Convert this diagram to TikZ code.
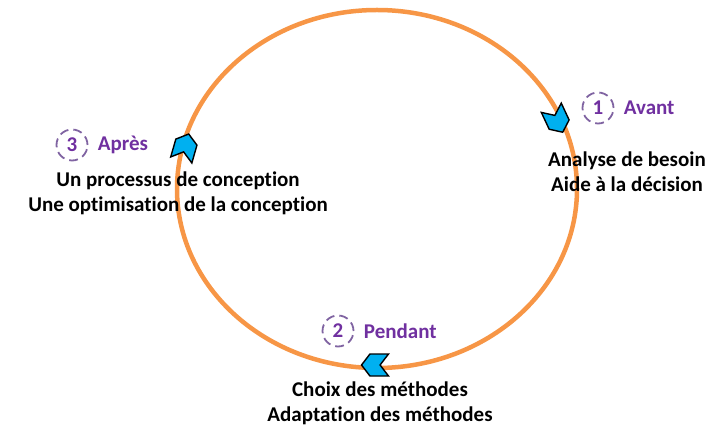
\documentclass[tikz,border=0pt]{standalone}
\usepackage{fontspec}
\setmainfont[Ligatures=NoCommon]{Carlito}
\usetikzlibrary{shapes.geometric,shapes.symbols,positioning}
\definecolor{ringorange}{HTML}{F79646}
\definecolor{chevblue}{HTML}{00B0F0}
\definecolor{phasepurple}{HTML}{7030A0}
\definecolor{dashpurple}{HTML}{8064A2}

\begin{document}
\begin{tikzpicture}[x=1pt,y=1pt,
  every node/.style={font=\fontsize{21}{25}\selectfont\bfseries,align=center},
  ring/.style={draw=ringorange,line width=4.5pt},
  chevron/.style={signal,signal to=east,signal from=west,draw=black,
    fill=chevblue,line width=1.4pt,minimum width=27pt,minimum height=22pt,
    inner sep=0pt,signal pointer angle=105},
  stepnum/.style={circle,draw=dashpurple,line width=1.8pt,
    dash pattern=on 9pt off 5pt,minimum size=31pt,inner sep=0pt,
    text=phasepurple},
  phase/.style={text=phasepurple,anchor=west},
  desc/.style={text=black}]
  \useasboundingbox (0,0) rectangle (708,428);
  \node[ring,ellipse,minimum width=400pt,minimum height=358pt,inner sep=0pt]
    (cycle) at (377,239) {};

  % markers along the cycle
  \node[chevron,rotate=-65] (before) at (557,308) {};
  \node[chevron,rotate=180] (during) at (375,63) {};
  \node[chevron,rotate=74] (after) at (185,281) {};

  % phase 1
  \node[stepnum] (num1) at (598,320) {1};
  \node[phase,right=6pt of num1] (avant) {Avant};
  \node[desc] (besoin) at (627,256) {Analyse de besoin\\Aide à la décision};

  % phase 2
  \node[stepnum] (num2) at (338,97) {2};
  \node[phase,right=6pt of num2] (pendant) {Pendant};
  \node[desc] (methodes) at (380,25) {Choix des méthodes\\Adaptation des méthodes};

  % phase 3
  \node[stepnum] (num3) at (72,283) {3};
  \node[phase,right=6pt of num3] (apres) {Après};
  \node[desc] (conception) at (178,235)
    {Un processus de conception\\Une optimisation de la conception};
\end{tikzpicture}
\end{document}
